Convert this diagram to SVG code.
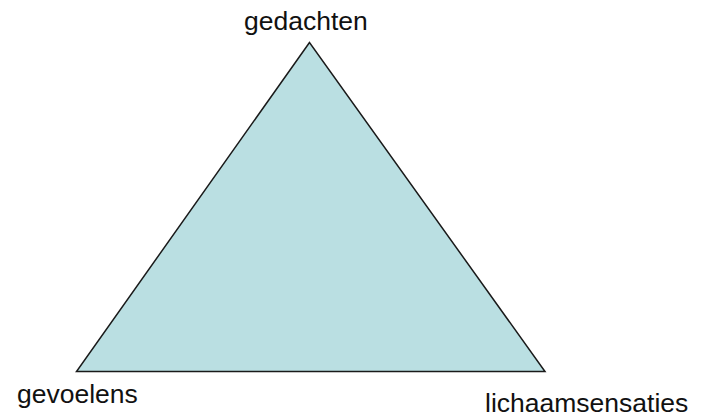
<svg xmlns="http://www.w3.org/2000/svg" width="707" height="417" viewBox="0 0 707 417">
<style>
.lbl{font-family:"Liberation Sans",Arial,sans-serif;font-size:26.5px;fill:#111}
.tri{fill:#BADFE2;stroke:#1a1a1a;stroke-width:1.5;stroke-linejoin:miter}
</style>
<rect width="707" height="417" fill="#fff"/>
<g id="triangle"><polygon class="tri" points="309.5,42.5 76.5,371.5 545,371.5"/></g>
<g id="node-gedachten"><text class="lbl" x="244" y="30">gedachten</text></g>
<g id="node-gevoelens"><text class="lbl" x="17" y="403">gevoelens</text></g>
<g id="node-lichaamsensaties"><text class="lbl" x="485" y="412">lichaamsensaties</text></g>
<g id="connectors"></g>
</svg>
